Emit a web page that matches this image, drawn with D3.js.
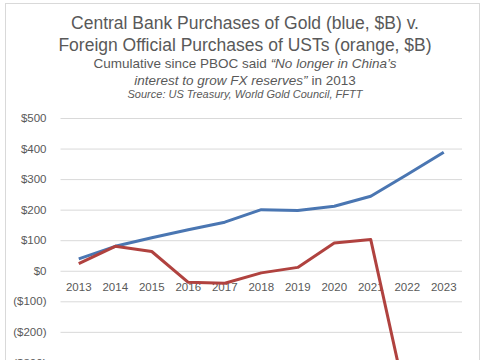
<!DOCTYPE html>
<html><head><meta charset="utf-8">
<script src="https://cdn.jsdelivr.net/npm/d3@7/dist/d3.min.js"></script>
<style>body{margin:0;background:#fff;}svg{display:block;font-family:"Liberation Sans",Arial,sans-serif;}</style>
</head><body>
<svg id="c" width="485" height="360"></svg>
<script>
const years = ["2013","2014","2015","2016","2017","2018","2019","2020","2021","2022","2023"];
const goldValues = [39, 80, 108, 134, 159, 200, 197, 211, 244, 315, 388];
const ustYears = ["2013","2014","2015","2016","2017","2018","2019","2020","2021","2022"];
const ustValues = [23, 80, 63, -38, -41, -7, 11, 91, 102, -440];
const yTicks = [500, 400, 300, 200, 100, 0, -100, -200, -300];

const svg = d3.select("#c");
svg.append("rect").attr("x",5.5).attr("y",3.5).attr("width",474).attr("height",400)
  .attr("fill","#fff").attr("stroke","#d9d9d9");

const x = d3.scaleBand().domain(years).range([60.5, 462]);
const y = d3.scaleLinear().domain([-500, 500]).range([423.5, 118]);
const cx = d => x(d) + x.bandwidth()/2;
const fmt = v => v < 0 ? "($" + (-v) + ")" : "$" + v;

// gridlines + y labels
const yAxis = d3.axisLeft(y).tickValues(yTicks).tickSize(-(462-60.5)).tickFormat(fmt).tickPadding(14);
const gy = svg.append("g").attr("transform","translate(60.5,0)").call(yAxis);
gy.select(".domain").remove();
gy.selectAll(".tick line").attr("stroke","#d9d9d9").attr("stroke-width",1);
gy.selectAll(".tick text").attr("fill","#595959").attr("font-size","11.5px");

// x labels at zero line
const xAxis = d3.axisBottom(x).tickSize(0).tickPadding(12);
const gx = svg.append("g").attr("transform","translate(0," + y(0) + ")").call(xAxis);
gx.select(".domain").remove();
gx.selectAll(".tick text").attr("fill","#595959").attr("font-size","11.5px");

const line = d3.line().x(d => cx(d[0])).y(d => y(d[1]));
svg.append("path").datum(years.map((d,i)=>[d,goldValues[i]])).attr("d",line)
  .attr("fill","none").attr("stroke","#4a76b2").attr("stroke-width",3).attr("stroke-linejoin","round");
svg.append("path").datum(ustYears.map((d,i)=>[d,ustValues[i]])).attr("d",line)
  .attr("fill","none").attr("stroke","#b0423f").attr("stroke-width",3).attr("stroke-linejoin","round");

// titles
const t = svg.append("g").attr("fill","#595959").attr("text-anchor","middle");
t.append("text").attr("x",245).attr("y",29).attr("font-size","17.5px").text("Central Bank Purchases of Gold (blue, $B) v.");
t.append("text").attr("x",245).attr("y",51).attr("font-size","17.5px").text("Foreign Official Purchases of USTs (orange, $B)");
const l3 = t.append("text").attr("x",245).attr("y",68).attr("font-size","13.5px");
l3.append("tspan").text("Cumulative since PBOC said ");
l3.append("tspan").attr("font-style","italic").text("\u201CNo longer in China\u2019s");
const l4 = t.append("text").attr("x",245).attr("y",85).attr("font-size","13.5px");
l4.append("tspan").attr("font-style","italic").text("interest to grow FX reserves\u201D");
l4.append("tspan").text(" in 2013");
t.append("text").attr("x",245).attr("y",98).attr("font-size","11px").attr("font-style","italic")
  .text("Source: US Treasury, World Gold Council, FFTT");
</script>
</body></html>
